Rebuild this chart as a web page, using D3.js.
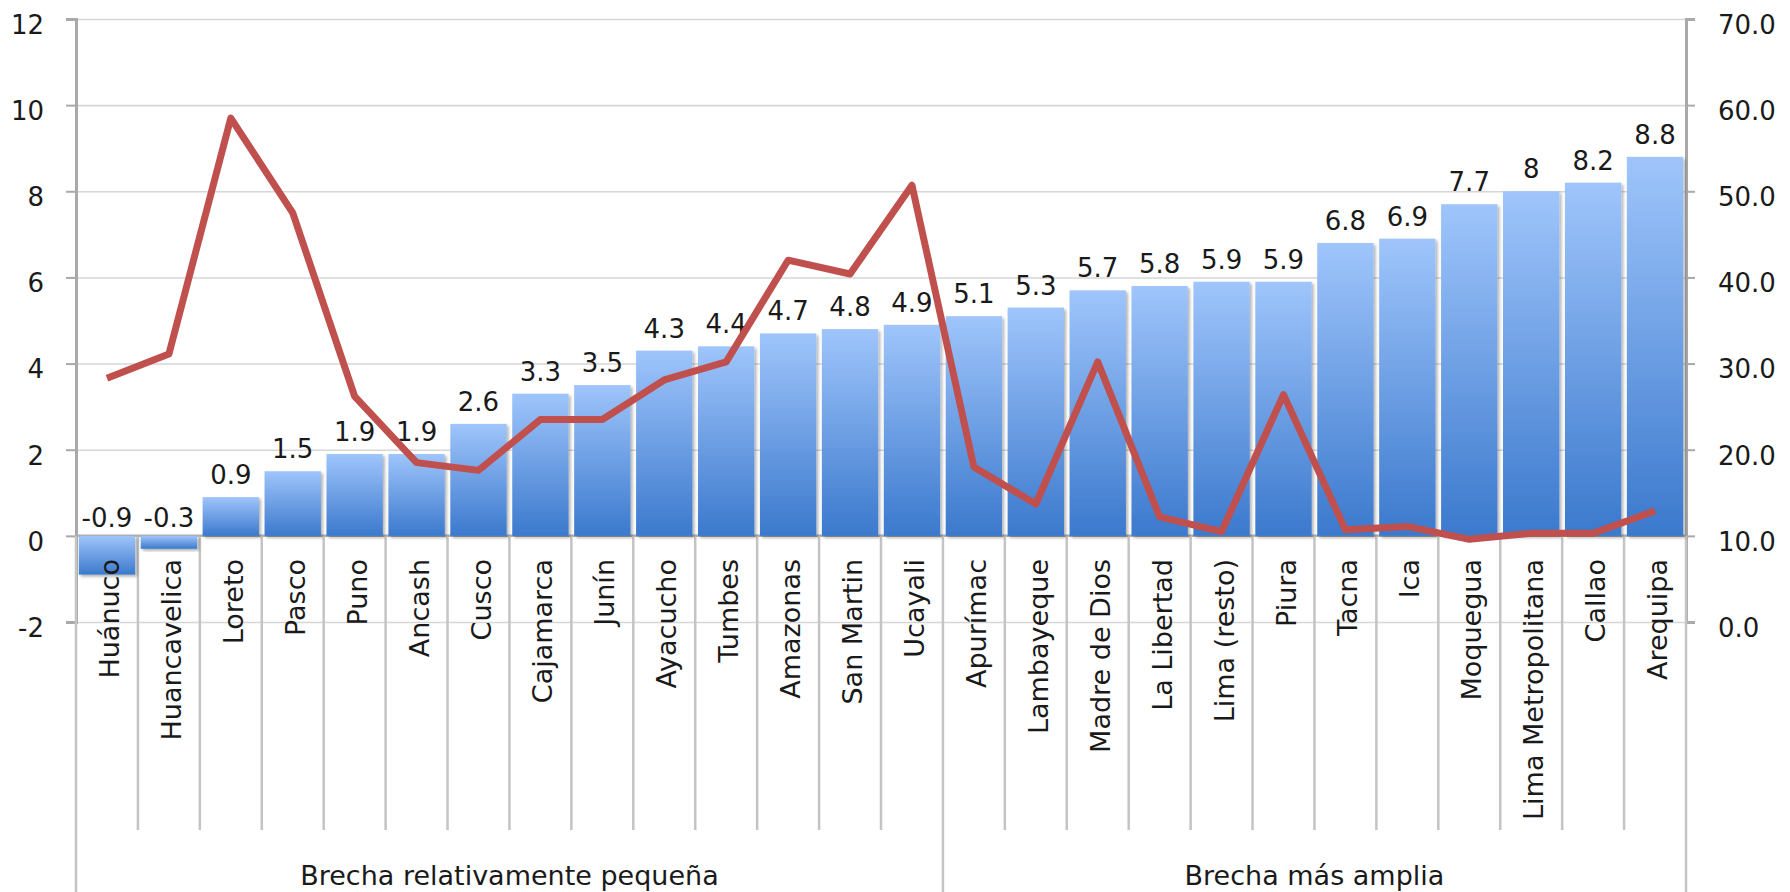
<!DOCTYPE html>
<html><head><meta charset="utf-8">
<script src="https://cdn.jsdelivr.net/npm/d3@7"></script>
<style>
body{margin:0;background:#fff}
text{font-family:"DejaVu Sans",sans-serif;fill:#1a1a1a}
</style>
</head><body>
<svg id="c" width="1790" height="892"></svg>
<script>
const categories = ["Huánuco","Huancavelica","Loreto","Pasco","Puno","Ancash","Cusco","Cajamarca","Junín","Ayacucho","Tumbes","Amazonas","San Martin","Ucayali","Apurímac","Lambayeque","Madre de Dios","La Libertad","Lima (resto)","Piura","Tacna","Ica","Moquegua","Lima Metropolitana","Callao","Arequipa"];
const gapValues = [-0.9,-0.3,0.9,1.5,1.9,1.9,2.6,3.3,3.5,4.3,4.4,4.7,4.8,4.9,5.1,5.3,5.7,5.8,5.9,5.9,6.8,6.9,7.7,8,8.2,8.8];
const rateValues = [28.3,31.1,58.5,47.5,26.2,18.5,17.6,23.5,23.5,28.1,30.2,42.0,40.4,50.7,18.0,13.7,30.2,12.2,10.5,26.4,10.7,11.1,9.6,10.3,10.3,12.9];
const groupNames = ["Brecha relativamente pequeña","Brecha más amplia"];
const groupSizes = [14,12];
const leftTicks = [-2,0,2,4,6,8,10,12];
const rightTicks = [0,10,20,30,40,50,60,70];

const W=1790,H=892;
const L=76,R=1686,T=19,B=622;
const svg=d3.select("#c");
const x=d3.scaleBand().domain(categories).range([L,R]).paddingInner(0.09).paddingOuter(0.045);
const yL=d3.scaleLinear().domain([-2,12]).range([B,T]);
const yR=d3.scaleLinear().domain([0,70]).range([B,T]);
const step=x.step();
const cx=d=>x(d)+x.bandwidth()/2;

const defs=svg.append("defs");
const g=defs.append("linearGradient").attr("id","barGrad").attr("x1",0).attr("y1",0).attr("x2",0).attr("y2",1);
g.append("stop").attr("offset","0%").attr("stop-color","#9fc5fb");
g.append("stop").attr("offset","100%").attr("stop-color","#3b79cd");
const f=defs.append("filter").attr("id","sh").attr("x","-10%").attr("y","-10%").attr("width","130%").attr("height","130%");
f.append("feDropShadow").attr("dx",2).attr("dy",2).attr("stdDeviation",1.5).attr("flood-color","#000").attr("flood-opacity",0.3);

// gridlines via left axis
const gridAxis=d3.axisLeft(yL).tickValues(leftTicks.filter(v=>v!==0)).tickSize(-(R-L)).tickFormat("");
const gg=svg.append("g").attr("transform",`translate(${L},0)`).call(gridAxis);
gg.select(".domain").remove();
gg.selectAll(".tick line").attr("stroke","#d6d6d6").attr("stroke-width",1.6);

// left axis ticks + labels
const la=svg.append("g").attr("transform",`translate(${L},0)`).call(d3.axisLeft(yL).tickValues(leftTicks).tickSize(10).tickPadding(0).tickFormat(d=>String(d)));
la.select(".domain").attr("stroke","#a9a9a9").attr("stroke-width",3);
la.selectAll(".tick line").attr("stroke","#a9a9a9").attr("stroke-width",2);
la.selectAll(".tick text").attr("x",-32).attr("dy","0.55em").style("font-size","26px").style("font-family","DejaVu Sans").attr("fill","#1a1a1a");

// right axis
const ra=svg.append("g").attr("transform",`translate(${R},0)`).call(d3.axisRight(yR).tickValues(rightTicks).tickSize(9).tickPadding(0).tickFormat(d=>d.toFixed(1)));
ra.select(".domain").attr("stroke","#a9a9a9").attr("stroke-width",3);
ra.selectAll(".tick line").attr("stroke","#a9a9a9").attr("stroke-width",2);
ra.selectAll(".tick text").attr("x",32).attr("dy","0.55em").style("font-size","26px").style("font-family","DejaVu Sans").attr("fill","#1a1a1a");

// zero line
svg.append("line").attr("x1",L).attr("x2",R).attr("y1",yL(0)).attr("y2",yL(0)).attr("stroke","#acacac").attr("stroke-width",2.5);

// category separators
const bounds=d3.range(categories.length+1);
const groupBounds=[0];
groupSizes.reduce((a,s)=>{groupBounds.push(a+s);return a+s;},0);
svg.append("g").selectAll("line").data(bounds).join("line")
  .attr("x1",i=>L+i*step).attr("x2",i=>L+i*step)
  .attr("y1",yL(0))
  .attr("y2",i=>groupBounds.includes(i)?H:830)
  .attr("stroke","#c4c4c4").attr("stroke-width",2.5);

// bars
svg.append("g").selectAll("rect").data(categories).join("rect")
  .attr("x",d=>x(d)).attr("width",x.bandwidth())
  .attr("y",(d,i)=>Math.min(yL(gapValues[i]),yL(0)))
  .attr("height",(d,i)=>Math.abs(yL(gapValues[i])-yL(0)))
  .attr("fill","url(#barGrad)").attr("filter","url(#sh)");

// data labels
svg.append("g").selectAll("text").data(categories).join("text")
  .attr("x",d=>cx(d))
  .attr("y",(d,i)=>gapValues[i]>=0?yL(gapValues[i])-13:yL(0)-9)
  .attr("text-anchor","middle").style("font-size","26px")
  .text((d,i)=>String(gapValues[i]));

// category labels
svg.append("g").selectAll("text").data(categories).join("text")
  .attr("transform",d=>`translate(${cx(d)+12},559) rotate(-90)`)
  .attr("text-anchor","end").style("font-size","27px")
  .text(d=>d);

// group labels
svg.append("g").selectAll("text").data(groupNames).join("text")
  .attr("x",(d,i)=>{const s=groupBounds[i],e=groupBounds[i+1];return L+(s+e)/2*step;})
  .attr("y",885).attr("text-anchor","middle").style("font-size","27px")
  .text(d=>d);

// line
const line=d3.line().x((d,i)=>cx(categories[i])).y(d=>yR(d));
svg.append("path").datum(rateValues).attr("d",line).attr("fill","none")
  .attr("stroke","#c0504d").attr("stroke-width",7).attr("stroke-linejoin","round").attr("stroke-linecap","butt");
</script>
</body></html>
